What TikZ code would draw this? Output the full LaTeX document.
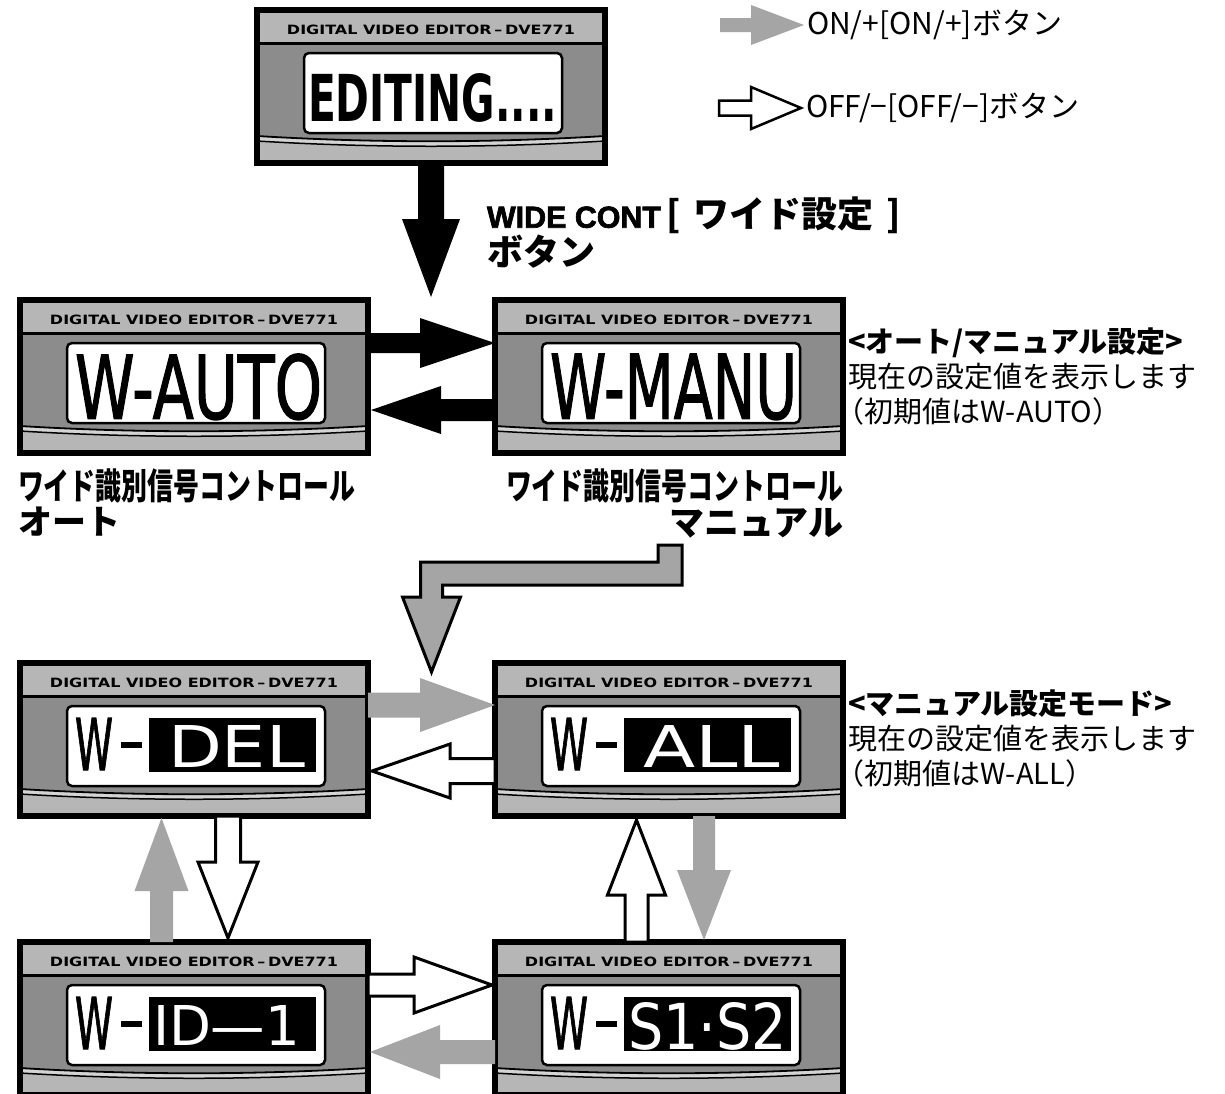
\documentclass[tikz,border=0pt]{standalone}
\usepackage{fontspec}
\usetikzlibrary{calc}
\newfontfamily\jp{Noto Sans CJK JP}
\newfontfamily\lcdfont{DejaVu Sans}
\newfontfamily\lcdmed{DejaVu Sans}[FakeBold=1.6]
\newfontfamily\hdrfont{DejaVu Sans}
\newfontfamily\widefont{Liberation Sans}[FakeBold=2.2]
\definecolor{bodygray}{HTML}{8C8C8C}
\definecolor{bandgray}{HTML}{B6B6B6}
\definecolor{stripe}{HTML}{D4D4D4}
\definecolor{ongray}{HTML}{A5A5A5}
\tikzset{
  dvebox/.style={rectangle, minimum width=348pt, minimum height=153pt, inner sep=0pt, outer sep=0pt, anchor=north west, fill=bodygray},
  blk/.style={fill=black},
  onar/.style={fill=ongray},
  offar/.style={fill=white, draw=black, line width=3pt, line join=miter},
  bent/.style={fill=ongray, draw=black, line width=3pt, line join=miter},
  txt/.style={inner sep=0pt, outer sep=0pt},
}
% fat arrows: #1 style, #2 tail, #3 tip, #4 shaft half width, #5 head half width, #6 head length
\newcommand\arrR[6]{\path[#1] ($(#2)+(0,-#4)$) -- ($(#3)+(-#6,-#4)$) -- ($(#3)+(-#6,-#5)$) -- (#3) -- ($(#3)+(-#6,#5)$) -- ($(#3)+(-#6,#4)$) -- ($(#2)+(0,#4)$) -- cycle;}
\newcommand\arrL[6]{\path[#1] ($(#2)+(0,-#4)$) -- ($(#3)+(#6,-#4)$) -- ($(#3)+(#6,-#5)$) -- (#3) -- ($(#3)+(#6,#5)$) -- ($(#3)+(#6,#4)$) -- ($(#2)+(0,#4)$) -- cycle;}
\newcommand\arrD[6]{\path[#1] ($(#2)+(-#4,0)$) -- ($(#3)+(-#4,-#6)$) -- ($(#3)+(-#5,-#6)$) -- (#3) -- ($(#3)+(#5,-#6)$) -- ($(#3)+(#4,-#6)$) -- ($(#2)+(#4,0)$) -- cycle;}
\newcommand\arrU[6]{\path[#1] ($(#2)+(-#4,0)$) -- ($(#3)+(-#4,#6)$) -- ($(#3)+(-#5,#6)$) -- (#3) -- ($(#3)+(#5,#6)$) -- ($(#3)+(#4,#6)$) -- ($(#2)+(#4,0)$) -- cycle;}
% display: #1 name, #2 x, #3 y, #4 lcd content
\newcommand\dve[4]{%
  \node[dvebox] (#1) at (#2,#3) {};
  \begin{scope}[shift={(#1.north west)}]
    \fill[bandgray] (0,0) rectangle (348,33);
    \draw[line width=3pt] (0,33) -- (348,33);
    \node[txt] at (174,20) {\resizebox{288pt}{9.5pt}{\hdrfont\bfseries DIGITAL VIDEO EDITOR\,–\,DVE771}};
    \fill[stripe] (0,126) .. controls (116,133) and (232,133) .. (348,126) -- (348,131) .. controls (232,138) and (116,138) .. (0,131) -- cycle;
    \fill[bandgray] (0,131) .. controls (116,138) and (232,138) .. (348,131) -- (348,153) -- (0,153) -- cycle;
    \draw[line width=1.8pt] (0,126) .. controls (116,133) and (232,133) .. (348,126);
    \draw[line width=1.5pt] (0,131) .. controls (116,138) and (232,138) .. (348,131);
    \draw[line width=2.5pt, fill=white, rounded corners=5pt] (47,43) rectangle (305,123);
    #4
    \draw[line width=6pt] (0,0) rectangle (348,153);
  \end{scope}}
\newcommand\lcdplain[5]{\node[txt, anchor=south west] at (#1,#2) {\resizebox{#3pt}{#4pt}{#5}};}
\newcommand\lcdinv[5]{%
  \node[txt, anchor=south west] at (55,107) {\resizebox{38pt}{52pt}{\lcdmed W}};
  \fill (101,79) rectangle (122,85);
  \fill (129,55) rectangle (296,109);
  \node[txt, anchor=south west, text=white] at (#1,#2) {\resizebox{#3pt}{#4pt}{\lcdfont #5}};}
\begin{document}
\begin{tikzpicture}[x=1pt,y=-1pt]
\useasboundingbox[fill=white] (0,0) rectangle (1225,1093);

% displays
\dve{edit}{257}{10}{\lcdplain{51}{112}{249}{48}{\lcdfont\bfseries EDITING....}}
\dve{auto}{20}{300}{\lcdplain{55}{120}{247}{65}{\lcdmed W-AUTO}}
\dve{manu}{495}{300}{\lcdplain{55}{120}{247}{65}{\lcdmed W-MANU}}
\dve{del}{20}{663}{\lcdinv{148}{104}{137}{42}{DEL}}
\dve{all}{495}{663}{\lcdinv{148}{104}{137}{42}{ALL}}
\dve{id}{20}{942}{\lcdinv{133}{103}{147}{40}{ID—1}}
\dve{s1s2}{495}{942}{\lcdinv{133}{108}{159}{47}{S1·S2}}

% legend
\node[txt, anchor=west, font=\jp\fontsize{30}{32}\selectfont] (leg1) at (807,25) {ON/+[ON/+]ボタン};
\node[txt, anchor=west, font=\jp\fontsize{30}{32}\selectfont] (leg2) at (806,108) {OFF/−[OFF/−]ボタン};
\coordinate (l1t) at (720,25);
\coordinate (l1h) at ($(leg1.west)+(-3,0)$);
\arrR{onar}{l1t}{l1h}{7}{20}{53}
\coordinate (l2t) at (719,108);
\coordinate (l2h) at ($(leg2.west)+(-5,0)$);
\arrR{offar,line width=2.5pt}{l2t}{l2h}{7.5}{21}{50}

% button text
\node[txt, anchor=north west, align=left, font=\jp\bfseries\fontsize{36}{33}\selectfont] (wide) at (487,197) {\resizebox{174pt}{!}{\widefont WIDE CONT}\hspace{0.15em}[\hspace{0.35em}ワイド設定\hspace{0.35em}]\\ボタン};

% right notes
\node[txt, anchor=west, align=left, font=\jp\fontsize{29}{35}\selectfont] (note1) at (848,377) {{\bfseries <オート/マニュアル設定>}\\現在の設定値を表示します\\\hspace{-0.42em}（初期値はW-AUTO）};
\node[txt, anchor=west, align=left, font=\jp\fontsize{29}{35}\selectfont] (note2) at (848,739) {{\bfseries <マニュアル設定モード>}\\現在の設定値を表示します\\\hspace{-0.42em}（初期値はW-ALL）};

% labels under row 2
\node[txt, anchor=west, font=\jp\bfseries\fontsize{36}{36}\selectfont] (autol1) at (18,486) {\scalebox{0.72}[1]{ワイド識別信号コントロール}};
\node[txt, anchor=west, font=\jp\bfseries\fontsize{34}{34}\selectfont] (autol2) at (18,522) {オート};
\node[txt, anchor=east, font=\jp\bfseries\fontsize{36}{36}\selectfont] (manul1) at (843,486) {\scalebox{0.72}[1]{ワイド識別信号コントロール}};
\node[txt, anchor=east, font=\jp\bfseries\fontsize{35}{35}\selectfont] (manul2) at (843,523) {マニュアル};

% arrows
\coordinate (t1) at (edit.south);
\coordinate (h1) at ($(edit.south |- auto.north)+(0,-3)$);
\arrD{blk}{t1}{h1}{13}{29}{78}
\coordinate (t2) at ($(auto.north east)+(0,43)$);
\coordinate (h2) at (manu.west |- t2);
\arrR{blk}{t2}{h2}{10}{25}{75}
\coordinate (t3) at ($(manu.north west)+(0,110)$);
\coordinate (h3) at ($(auto.east |- t3)+(3,0)$);
\arrL{blk}{t3}{h3}{11}{24}{70}

% bent arrow from manual label down to manual mode
\coordinate (b0) at ($(manu.south west)+(175,92)$);
\coordinate (b1) at ($($(del.north east)!0.5!(all.north west)$)+(0,9)$);
\draw[bent] ($(b0)+(12,0)$) -- ($(b0)+(12,40)$) -- ($(b1 |- b0)+(11,40)$) -- ($(b1)+(11,-75)$) -- ($(b1)+(29,-75)$) -- (b1) -- ($(b1)+(-29,-75)$) -- ($(b1)+(-11,-75)$) -- ($(b1 |- b0)+(-11,17)$) -- ($(b0)+(-12,17)$) -- ($(b0)+(-12,0)$) -- cycle;

\coordinate (t5) at ($(del.north east)+(0,42)$);
\coordinate (h5) at (all.west |- t5);
\arrR{onar}{t5}{h5}{12.5}{27}{75}
\coordinate (t6) at ($(all.north west)+(0,108)$);
\coordinate (h6) at ($(del.east |- t6)+(4,0)$);
\arrL{offar}{t6}{h6}{12.5}{27}{78}
\coordinate (t7) at ($(id.north west)+(141.5,0)$);
\coordinate (h7) at ($(del.south -| t7)+(0,2)$);
\arrU{onar}{t7}{h7}{11.5}{27}{73}
\coordinate (t8) at ($(del.south west)+(208,0)$);
\coordinate (h8) at ($(id.north -| t8)+(0,-4)$);
\arrD{offar}{t8}{h8}{12.5}{30}{76}
\coordinate (t9) at ($(s1s2.north west)+(141.5,0)$);
\coordinate (h9) at ($(all.south -| t9)+(0,4)$);
\arrU{offar}{t9}{h9}{11.5}{29}{75}
\coordinate (t10) at ($(all.south west)+(209,0)$);
\coordinate (h10) at ($(s1s2.north -| t10)+(0,-2)$);
\arrD{onar}{t10}{h10}{11}{27}{70}
\coordinate (t11) at ($(id.north east)+(0,43)$);
\coordinate (h11) at ($(s1s2.west |- t11)+(-3,0)$);
\arrR{offar}{t11}{h11}{11}{28}{78}
\coordinate (t12) at ($(s1s2.north west)+(0,110)$);
\coordinate (h12) at ($(id.east |- t12)+(2,0)$);
\arrL{onar}{t12}{h12}{12}{27}{70}
\end{tikzpicture}
\end{document}
